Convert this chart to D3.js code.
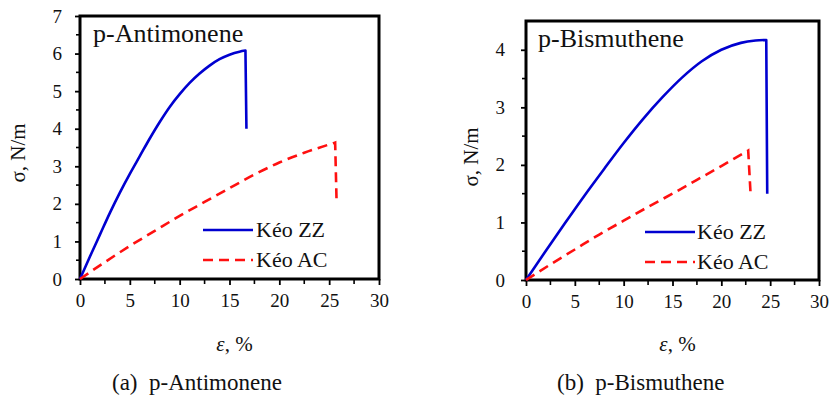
<!DOCTYPE html>
<html><head><meta charset="utf-8">
<script src="https://cdn.jsdelivr.net/npm/d3@7"></script>
<style>
html,body{margin:0;padding:0;background:#fff;}
</style></head>
<body>
<svg id="chart" width="831" height="398"></svg>
<script>
// ---------- data (strain %, stress N/m) ----------
const xTicks = [0, 5, 10, 15, 20, 25, 30];
const yTicksA = [0, 1, 2, 3, 4, 5, 6, 7];
const yTicksB = [0, 1, 2, 3, 4];
const seriesNames = ["Kéo ZZ", "Kéo AC"];

const antimoneneZZ = [[0,0],[1,0.6],[2,1.18],[3,1.76],[4,2.3],[5,2.8],[6,3.27],[7,3.74],[8,4.18],[9,4.58],[10,4.92],[11,5.22],[12,5.47],[13,5.68],[14,5.85],[15,5.97],[16,6.05],[16.6,6.08],[16.7,4.0]];
const antimoneneAC = [[0,0],[2.5,0.45],[5,0.88],[7.5,1.28],[10,1.68],[12.5,2.05],[15,2.42],[17.5,2.78],[20,3.1],[22.5,3.36],[25,3.58],[25.6,3.63],[25.75,2.0]];
const bismutheneZZ = [[0,0],[2,0.5],[4,0.99],[6,1.47],[8,1.93],[10,2.38],[12,2.8],[14,3.18],[16,3.52],[18,3.8],[20,4.0],[22,4.12],[23.5,4.16],[24.6,4.17],[24.7,1.5]];
const bismutheneAC = [[0,0],[2.5,0.27],[5,0.53],[7.5,0.79],[10,1.03],[12.5,1.27],[15,1.5],[17.5,1.74],[20,1.98],[22.75,2.25],[23.0,1.48]];

const FONT = '"Liberation Serif"';

const panels = [
  {title:"p-Antimonene", caption:"(a)  p-Antimonene", zz:antimoneneZZ, ac:antimoneneAC,
   yMax:7, yTicks:yTicksA, box:{l:80,r:379,t:16,b:279},
   titlePos:[93,42], legend:{x1:203,x2:253,y:230,tx:256}, capX:112, yLab:[25,153], yTickGap:18},
  {title:"p-Bismuthene", caption:"(b)  p-Bismuthene", zz:bismutheneZZ, ac:bismutheneAC,
   yMax:4.5, yTicks:yTicksB, box:{l:526,r:819,t:21,b:280},
   titlePos:[538,47], legend:{x1:645,x2:695,y:232,tx:697}, capX:557, yLab:[478,157], yTickGap:21}
];

const svg = d3.select("#chart");
const blue = "#0000d0", red = "#ff1010";

function pathWithDrop(x, y, data) {
  const body = data.slice(0, -1);
  const last = data[data.length - 1];
  const d = d3.line().x(v=>x(v[0])).y(v=>y(v[1])).curve(d3.curveMonotoneX)(body);
  return d + "L" + x(last[0]) + "," + y(last[1]);
}
function txt(sel, size) {
  return sel.attr("font-family", FONT).style("font-family", FONT).attr("font-size", size).attr("fill", "#111");
}

panels.forEach(p => {
  const b = p.box;
  const x = d3.scaleLinear().domain([0,30]).range([b.l,b.r]);
  const y = d3.scaleLinear().domain([0,p.yMax]).range([b.b,b.t]);
  const g = svg.append("g");

  // minor ticks
  const xMinor = d3.range(2.5, 30, 5);
  g.selectAll(".xm").data(xMinor).join("line")
    .attr("x1", d=>x(d)).attr("x2", d=>x(d)).attr("y1", b.b).attr("y2", b.b+5)
    .attr("stroke","#000").attr("stroke-width",1.6);
  const yMinor = d3.range(0.5, p.yMax, 1);
  g.selectAll(".ym").data(yMinor).join("line")
    .attr("y1", d=>y(d)).attr("y2", d=>y(d)).attr("x1", b.l-4).attr("x2", b.l)
    .attr("stroke","#000").attr("stroke-width",1.6);

  // axes
  const xAxis = d3.axisBottom(x).tickValues(xTicks).tickSize(6).tickPadding(9).tickFormat(d3.format("d"));
  const gx = g.append("g").attr("transform",`translate(0,${b.b})`).call(xAxis);
  const yAxis = d3.axisLeft(y).tickValues(p.yTicks).tickSize(5).tickPadding(p.yTickGap-5).tickFormat(d3.format("d"));
  const gy = g.append("g").attr("transform",`translate(${b.l},0)`).call(yAxis);
  [gx,gy].forEach(a=>{
    a.attr("font-family", FONT).attr("font-size", 19);
    a.select(".domain").remove();
    a.selectAll(".tick line").attr("stroke","#000").attr("stroke-width",1.8);
    txt(a.selectAll(".tick text"), 19);
  });

  // frame
  g.append("rect").attr("x",b.l).attr("y",b.t).attr("width",b.r-b.l).attr("height",b.b-b.t)
    .attr("fill","none").attr("stroke","#000").attr("stroke-width",3);

  // lines
  g.append("path").attr("d",pathWithDrop(x,y,p.zz)).attr("fill","none").attr("stroke",blue).attr("stroke-width",2.6).attr("stroke-linejoin","round");
  g.append("path").attr("d",pathWithDrop(x,y,p.ac)).attr("fill","none").attr("stroke",red).attr("stroke-width",2.6).attr("stroke-dasharray","10,6");

  // title
  txt(g.append("text").attr("x",p.titlePos[0]).attr("y",p.titlePos[1]), 26).text(p.title);

  // legend
  const L = p.legend;
  [[seriesNames[0],blue,null],[seriesNames[1],red,"10,6"]].forEach((s,i)=>{
    const yy = L.y + i*30;
    g.append("line").attr("x1",L.x1).attr("x2",L.x2).attr("y1",yy).attr("y2",yy)
      .attr("stroke",s[1]).attr("stroke-width",2.6).attr("stroke-dasharray",s[2]);
    txt(g.append("text").attr("x",L.tx).attr("y",yy+7), 22).text(s[0]);
  });

  // axis labels
  const xl = txt(g.append("text").attr("x",(b.l+b.r)/2+5).attr("y",351).attr("text-anchor","middle"), 21);
  xl.append("tspan").attr("font-style","italic").text("ε");
  xl.append("tspan").text(", %");
  txt(g.append("text").attr("transform",`translate(${p.yLab[0]},${p.yLab[1]}) rotate(-90)`)
    .attr("text-anchor","middle"), 21).text("σ, N/m");

  // caption
  txt(g.append("text").attr("x",p.capX).attr("y",390).attr("xml:space","preserve").style("white-space","pre"), 23).text(p.caption);
});
</script>
</body></html>
